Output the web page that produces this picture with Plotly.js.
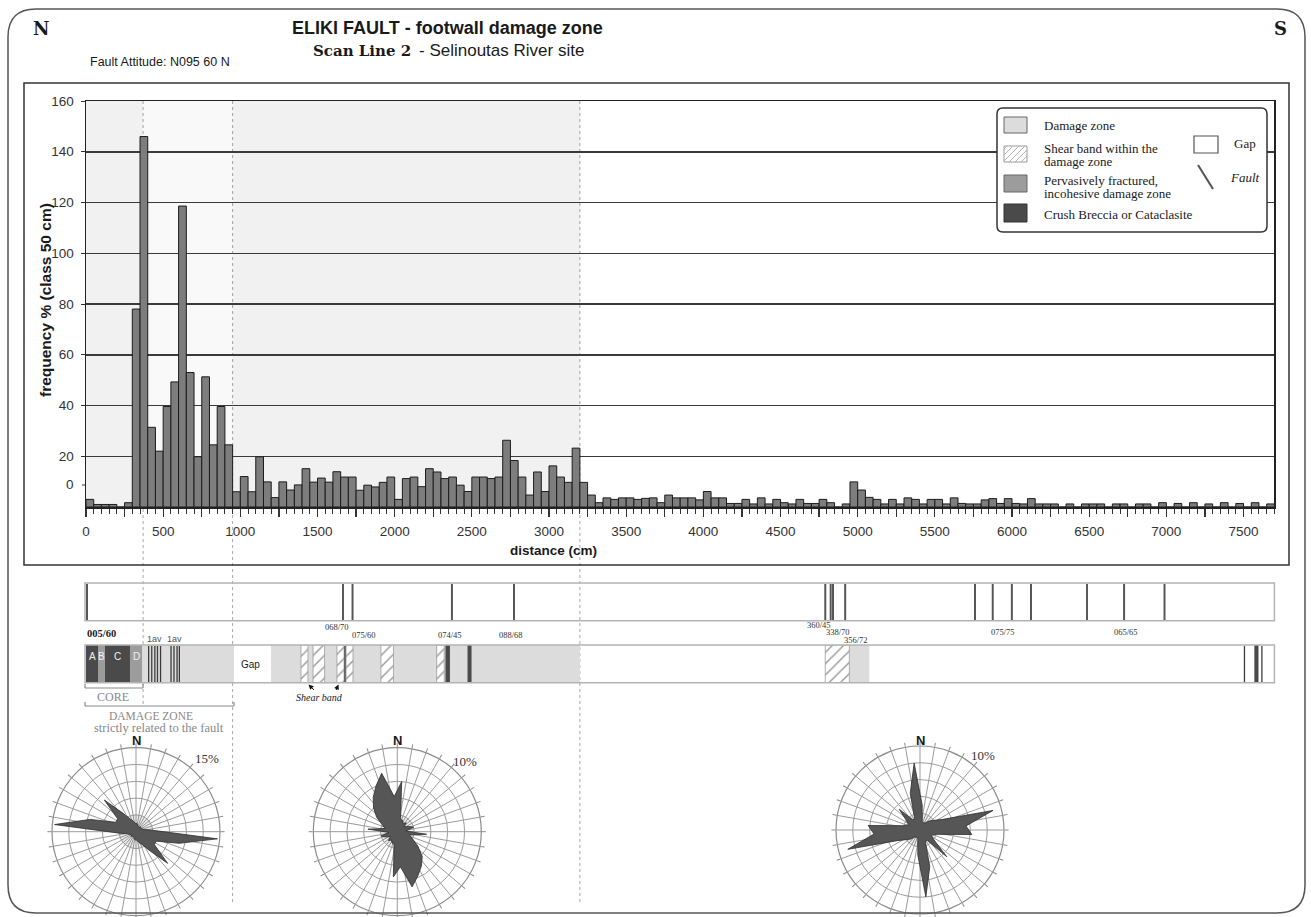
<!DOCTYPE html>
<html><head><meta charset="utf-8">
<script src="https://cdn.plot.ly/plotly-3.0.1.min.js"></script>
<style>body{margin:0;background:#fff}#chart{width:1311px;height:917px}</style>
</head><body><div id="chart"></div>
<script>
// ---------------- DATA ----------------
// histogram: frequency % per 50 cm class, classes starting at 0 cm
const freq = [3.0,1.0,1.0,1.0,0,1.7,78,146,31.4,22,39.6,49.3,118.6,53,19.8,51.3,24.5,39.6,24.5,6,
12,6,19.8,9.9,3.7,9.9,6.7,8.7,15.1,9.8,11.4,9.8,13.9,11.8,11.8,6.6,8.6,7.9,9.7,11.8,
3.0,11.2,11.8,8.0,15.1,13.8,11.2,11.8,8.6,6.1,11.8,11.8,11.2,11.8,26.3,18.3,11.8,4.7,13.8,6.1,
16.2,11.8,9.7,23.2,9.7,4.7,1.7,3.6,3.0,3.6,3.6,3.0,3.4,3.6,1.7,4.7,3.6,3.6,3.6,2.8,
6.1,3.6,3.6,1.4,1.4,3.0,1.2,3.6,1.2,3.0,1.7,1.2,3.0,1.4,1.4,3.0,1.7,0,1.2,9.9,
6.7,3.8,3.0,1.2,3.0,1.2,3.6,3.0,1.2,3.0,3.0,1.2,3.6,1.4,1.2,1.2,2.8,3.3,1.4,3.3,
1.4,1.2,3.3,1.2,1.2,1.2,0,1.2,0,1.2,1.2,1.2,0,1.2,1.2,0,1.2,1.2,0,1.7,
0,1.4,0,1.7,0,1.2,0,1.7,0,1.4,0,1.7,0,1.2];
const classWidth = 50;
const xTickVals = [0,250,500,750,1000,1250,1500,1750,2000,2250,2500,2750,3000,3250,3500,3750,4000,4250,4500,4750,5000,5250,5500,5750,6000,6250,6500,6750,7000,7250,7500];
const xTickText = ['0','','500','','1000','','1500','','2000','','2500','','3000','','3500','','4000','','4500','','5000','','5500','','6000','','6500','','7000','','7500'];
const yTickVals = [20,40,60,80,100,120,140,160];
const yTickText = ['20','40','60','80','100','120','140','160'];
const zoneBounds = [370, 950, 3200];           // cm

// scan-line strips (cm)
const faultLines = [0,1665,1727,2371,2773,4790,4825,4840,4919,5760,5875,5999,6123,6486,6726,6988];
const damageZone = [[363,959],[1199,3200],[4946,5075]];
const fracturedZone = [[79,123],[285,363]];
const crushBreccia = [[0,79],[123,285],[2329,2358],[2472,2498],[7570,7597]];
const shearBands = [[1393,1438],[1471,1546],[1626,1672],[1685,1730],[1911,1992],[2272,2321],[4790,4946]];
const thinFaults = [406,426,446,463,483,551,570,590,605,1678,7506,7619];
const coreUnits = [[0,79],[79,123],[123,285],[285,363]];
const coreNames = ['A','B','C','D'];
const orientLabels = ['068/70','075/60','074/45','088/68','360/45','338/70','356/72','075/75','065/65'];

// rose diagrams: % per 10 degree class (class centres)
const roseTheta = [5,15,25,35,45,55,65,75,85,95,105,115,125,135,145,155,165,175,185,195,205,215,225,235,245,255,265,275,285,295,305,315,325,335,345,355];
const rose1 = [1.5,1.2,1.0,1.0,1.2,1.0,1.2,1.5,3.0,14.6,8.0,4.0,4.0,8.0,4.0,2.5,2.0,1.5,1.5,1.2,1.0,1.0,1.2,1.0,1.2,1.5,3.0,14.6,8.5,4.0,4.0,8.0,4.0,2.5,2.0,1.5];
const rose2 = [6.0,1.5,1.5,1.2,1.5,1.0,1.5,2.0,1.0,3.5,1.5,2.0,3.0,4.2,5.0,5.8,6.8,4.2,5.4,1.5,1.5,1.2,1.5,1.0,1.5,2.0,1.0,3.5,1.5,2.0,3.0,4.0,5.0,6.0,7.2,4.2];
const rose3 = [3.0,1.0,1.0,1.0,1.5,2.0,3.0,9.0,5.5,6.2,2.0,1.5,2.0,4.5,1.5,1.5,4.5,8.0,3.0,1.0,1.0,1.0,1.5,2.0,3.0,8.9,5.5,6.2,2.0,1.5,2.0,3.5,1.5,1.5,4.5,8.0];
const roseMax = [15, 10, 10];
const roseScaleLabels = ['15%','10%','10%'];

// ---------------- HELPERS ----------------
const W = 1311, H = 917;
const PX = x => x / W, PY = y => 1 - y / H;
const SANS = 'Liberation Sans, Arial, sans-serif';
const SERIF = 'Liberation Serif, Times New Roman, serif';
const SLAB = 'DejaVu Serif, serif';
const annotations = [];
const shapes = [];
function txt(text, x, y, size, opt) {
  opt = opt || {};
  annotations.push({text: text, xref: 'paper', yref: 'paper', x: PX(x), y: PY(y),
    xanchor: opt.xa || 'center', yanchor: 'middle', showarrow: false, textangle: opt.angle || 0,
    font: {family: opt.family || SANS, size: size, color: opt.color || '#1a1a1a'}});
}
function pline(x0, y0, x1, y1, color, width, dash) {
  shapes.push({type: 'line', xref: 'paper', yref: 'paper', x0: PX(x0), y0: PY(y0), x1: PX(x1), y1: PY(y1),
    line: {color: color, width: width, dash: dash || 'solid'}});
}
function prect(x0, y0, x1, y1, fill, color, width) {
  shapes.push({type: 'rect', xref: 'paper', yref: 'paper', x0: PX(x0), y0: PY(y1), x1: PX(x1), y1: PY(y0),
    fillcolor: fill || 'rgba(0,0,0,0)', line: {color: color || 'rgba(0,0,0,0)', width: width || 0}});
}
function rrect(x0, y0, x1, y1, r, fill, color, width) {
  const P = (x, y) => PX(x).toFixed(5) + ',' + PY(y).toFixed(5);
  const path = 'M' + P(x0 + r, y0) + ' L' + P(x1 - r, y0) + ' Q' + P(x1, y0) + ' ' + P(x1, y0 + r) +
    ' L' + P(x1, y1 - r) + ' Q' + P(x1, y1) + ' ' + P(x1 - r, y1) + ' L' + P(x0 + r, y1) +
    ' Q' + P(x0, y1) + ' ' + P(x0, y1 - r) + ' L' + P(x0, y0 + r) + ' Q' + P(x0, y0) + ' ' + P(x0 + r, y0) + ' Z';
  shapes.push({type: 'path', xref: 'paper', yref: 'paper', path: path, fillcolor: fill || 'rgba(0,0,0,0)',
    line: {color: color, width: width}});
}
function hatch(x0, y0, x1, y1, step, color) {
  for (let c = x0 + y0 + step / 2; c < x1 + y1; c += step) {
    const xs = Math.max(x0, c - y1), xe = Math.min(x1, c - y0);
    if (xe > xs) pline(xs, c - xs, xe, c - xe, color, 1);
  }
}

// ---------------- TRACES ----------------
const traces = [];
traces.push({type: 'bar', x0: classWidth / 2, dx: classWidth, y: freq, width: classWidth,
  marker: {color: '#7d7d7d', line: {color: '#1c1c1c', width: 1}}, xaxis: 'x', yaxis: 'y', hoverinfo: 'skip'});

function segBars(segs, marker) {
  return {type: 'bar', x: segs.map(s => (s[0] + s[1]) / 2), y: segs.map(() => 1), width: segs.map(s => s[1] - s[0]),
    base: 0, marker: marker, xaxis: 'x2', yaxis: 'y2', hoverinfo: 'skip'};
}
traces.push(segBars(damageZone, {color: '#dcdcdc', line: {width: 0}}));
traces.push(segBars(fracturedZone, {color: '#9c9c9c', line: {width: 0}}));
traces.push(segBars(crushBreccia, {color: '#4a4a4a', line: {width: 0}}));
traces.push(segBars(shearBands, {color: '#ffffff', line: {color: '#9a9a9a', width: 0.8},
  pattern: {shape: '/', fgcolor: '#9a9a9a', bgcolor: '#ffffff', size: 8, solidity: 0.18}}));

const roses = [rose1, rose2, rose3];
roses.forEach((r, k) => {
  const sp = k === 0 ? 'polar' : 'polar' + (k + 1);
  traces.push({type: 'barpolar', r: [roseMax[k] / 5], theta: [180], width: [360], subplot: sp,
    marker: {color: 'rgba(0,0,0,0.07)', line: {width: 0}}, hoverinfo: 'skip'});
  traces.push({type: 'scatterpolar', r: r.concat([r[0]]), theta: roseTheta.concat([roseTheta[0]]), subplot: sp,
    mode: 'lines', fill: 'toself', fillcolor: '#565656', line: {color: '#2e2e2e', width: 0.8}, hoverinfo: 'skip'});
});

// ---------------- DECORATION ----------------
// outer rounded frame and histogram frame
rrect(8, 9, 1305, 913, 28, null, '#555', 1.5);
prect(24, 83, 1289, 565, null, '#333', 1.5);

// zone shading inside the plot (translucent so the dotted boundaries show through)
shapes.push({type: 'rect', xref: 'x', yref: 'y', layer: 'below', x0: 0, x1: zoneBounds[0], y0: 0, y1: 160, fillcolor: 'rgba(0,0,0,0.055)', line: {width: 0}});
shapes.push({type: 'rect', xref: 'x', yref: 'y', layer: 'below', x0: zoneBounds[0], x1: zoneBounds[1], y0: 0, y1: 160, fillcolor: 'rgba(0,0,0,0.025)', line: {width: 0}});
shapes.push({type: 'rect', xref: 'x', yref: 'y', layer: 'below', x0: zoneBounds[1], x1: zoneBounds[2], y0: 0, y1: 160, fillcolor: 'rgba(0,0,0,0.055)', line: {width: 0}});

// dotted zone boundaries (behind the bars)
const zoneBottoms = [706, 905, 905];
zoneBounds.forEach((z, k) => shapes.push({type: 'line', xref: 'x', yref: 'paper', layer: 'below', x0: z, x1: z, y0: PY(101), y1: PY(zoneBottoms[k]),
  line: {color: '#a8a8a8', width: 1, dash: 'dot'}}));

// "0" tick of the y axis
pline(82, 485, 86, 485, '#333', 1);
txt('0', 76, 485, 13.5, {xa: 'right', color: '#333'});

// axis titles
txt('<b>frequency % (class 50 cm)</b>', 45, 300, 15.5, {angle: -90});
txt('<b>distance (cm)</b>', 553, 550, 13.5);

// titles
txt('<b>N</b>', 41, 28, 18, {family: SLAB});
txt('<b>S</b>', 1280, 28, 18, {family: SLAB});
txt('<b>ELIKI FAULT - footwall damage zone</b>', 447, 28, 18);
txt('<b>Scan Line 2</b>', 413, 51, 15, {xa: 'right', family: SLAB});
txt('- Selinoutas River site', 417, 51, 17, {xa: 'left'});
txt('Fault Attitude: N095 60 N', 88, 62, 12.5, {xa: 'left'});

// legend
rrect(997, 108, 1267, 232, 6, '#ffffff', '#333', 1.5);
prect(1004, 117, 1027, 133, '#dcdcdc', '#666', 1);
prect(1004, 146, 1027, 162, '#ffffff', '#999', 1);
hatch(1004, 146, 1027, 162, 6, '#b0b0b0');
prect(1004, 175, 1027, 192, '#9c9c9c', '#666', 1);
prect(1004, 204, 1027, 222, '#4a4a4a', '#333', 1);
prect(1194, 136, 1218, 153, '#ffffff', '#555', 1.2);
pline(1198, 165, 1213, 189, '#555', 2);
txt('Damage zone', 1042, 125, 13, {xa: 'left', family: SERIF});
txt('Shear band within the', 1042, 148, 13, {xa: 'left', family: SERIF});
txt('damage zone', 1042, 162, 13, {xa: 'left', family: SERIF});
txt('Pervasively fractured,', 1042, 180, 13, {xa: 'left', family: SERIF});
txt('incohesive damage zone', 1042, 194, 13, {xa: 'left', family: SERIF});
txt('Crush Breccia or Cataclasite', 1042, 214, 13, {xa: 'left', family: SERIF});
txt('Gap', 1232, 144, 13, {xa: 'left', family: SERIF});
txt('<i>Fault</i>', 1228, 178, 13, {xa: 'left', family: SERIF});

// strip 1: faults along the scan line
faultLines.forEach((f, k) => shapes.push({type: 'line', xref: 'x', yref: 'paper', x0: f, x1: f, y0: PY(584), y1: PY(620),
  line: {color: '#575757', width: k === 0 ? 4 : 2}}));
prect(85, 583, 1274.4, 620.7, null, '#b4b4b4', 1.5);

// strip 2: thin faults, border
thinFaults.forEach(f => shapes.push({type: 'line', xref: 'x2', yref: 'paper', x0: f, x1: f, y0: PY(646), y1: PY(682),
  line: {color: '#3c3c3c', width: 1.3}}));
prect(85, 645, 1274.4, 682.7, null, '#b4b4b4', 1.5);
coreUnits.forEach((u, k) => annotations.push({text: coreNames[k], xref: 'x2', yref: 'paper', x: (u[0] + u[1]) / 2, y: PY(664),
  showarrow: false, font: {family: SANS, size: 10, color: '#f2f2f2'}}));
txt('Gap', 250, 664, 10);

// orientation labels
txt('<b>005/60</b>', 85, 633, 10.5, {xa: 'left', family: SERIF});
const orientPos = [[337, 627], [364, 635], [450, 635], [511, 635], [819, 625], [838, 632], [856, 640], [1003, 632], [1126, 632]];
orientLabels.forEach((t, k) => txt(t, orientPos[k][0], orientPos[k][1], 8.5, {family: SERIF, color: '#333'}));
txt('1av', 154, 639, 9, {color: '#555'});
txt('1av', 175, 639, 9, {color: '#555'});

// shear band note
txt('<i>Shear band</i>', 319, 697, 10, {family: SERIF});
annotations.push({text: '', xref: 'paper', yref: 'paper', x: PX(308.5), y: PY(684.5), ax: 7, ay: 7, showarrow: true,
  arrowhead: 2, arrowsize: 1, arrowwidth: 1, arrowcolor: '#111'});
annotations.push({text: '', xref: 'paper', yref: 'paper', x: PX(338.5), y: PY(684.5), ax: -3, ay: 7, showarrow: true,
  arrowhead: 2, arrowsize: 1, arrowwidth: 1, arrowcolor: '#111'});

// core / damage zone brackets
pline(85, 688, 143, 688, '#8a8a8a', 1.2);
pline(85, 684, 85, 688, '#8a8a8a', 1.2);
pline(143, 684, 143, 688, '#8a8a8a', 1.2);
txt('CORE', 113, 697, 12, {family: SERIF, color: '#888'});
pline(85, 706, 234, 706, '#8a8a8a', 1.2);
pline(85, 702, 85, 706, '#8a8a8a', 1.2);
pline(234, 702, 234, 706, '#8a8a8a', 1.2);
txt('DAMAGE ZONE', 151, 715.5, 11.5, {family: SERIF, color: '#888'});
txt('strictly related to the fault', 159, 727.5, 12.5, {family: SERIF, color: '#888'});

// rose labels
const roseCentres = [[136, 831.7], [397.3, 831.7], [920, 830]];
const roseRad = 84;
const rosePct = [[207, 758], [465, 761], [983, 755]];
roseCentres.forEach((c, k) => {
  txt('<b>N</b>', c[0], 740, 13);
  txt(roseScaleLabels[k], rosePct[k][0], rosePct[k][1], 13, {family: SERIF, color: '#333'});
});

function polarCfg(k) {
  const c = roseCentres[k];
  const m = roseMax[k];
  return {
    domain: {x: [PX(c[0] - roseRad), PX(c[0] + roseRad)], y: [PY(c[1] + roseRad), PY(c[1] - roseRad)]},
    bgcolor: 'rgba(0,0,0,0)',
    radialaxis: {range: [0, m], tickmode: 'linear', tick0: 0, dtick: m / 5, showticklabels: false, ticks: '',
      showline: false, gridcolor: '#9c9c9c', gridwidth: 1},
    angularaxis: {rotation: 90, direction: 'clockwise', tickmode: 'linear', tick0: 0, dtick: 10, showticklabels: false,
      ticks: 'outside', ticklen: 4, tickcolor: '#8c8c8c', gridcolor: '#9c9c9c', gridwidth: 1, linecolor: '#8c8c8c', linewidth: 1.2}
  };
}

// ---------------- LAYOUT ----------------
const layout = {
  width: W, height: H, margin: {l: 0, r: 0, t: 0, b: 0},
  paper_bgcolor: '#ffffff', plot_bgcolor: 'rgba(0,0,0,0)', showlegend: false, barmode: 'overlay',
  xaxis: {domain: [PX(86), PX(1274.4)], range: [0, 7700], anchor: 'y', tickmode: 'array', tickvals: xTickVals, ticktext: xTickText,
    ticks: 'outside', ticklen: 8, tickwidth: 1.2, tickcolor: '#333', showline: true, linecolor: '#222', linewidth: 1.5, mirror: true,
    showgrid: false, zeroline: false, tickfont: {family: SANS, size: 13.5, color: '#333'}, ticklabelstandoff: 3,
    minor: {tickmode: 'linear', tick0: 0, dtick: 50, ticks: 'outside', ticklen: 5, tickwidth: 1, tickcolor: '#333', showgrid: false}},
  yaxis: {domain: [PY(507), PY(101)], range: [0, 160], anchor: 'x', tickmode: 'array', tickvals: yTickVals, ticktext: yTickText,
    ticks: 'outside', ticklen: 4, tickcolor: '#333', showline: true, linecolor: '#222', linewidth: 1.5, mirror: true,
    showgrid: true, gridcolor: '#3a3a3a', gridwidth: 1.5, zeroline: false, tickfont: {family: SANS, size: 13.5, color: '#333'}, ticklabelstandoff: 4},
  xaxis2: {domain: [PX(86), PX(1274.4)], range: [0, 7700], anchor: 'y2', visible: false},
  yaxis2: {domain: [PY(682.7), PY(645)], range: [0, 1], anchor: 'x2', visible: false},
  polar: polarCfg(0), polar2: polarCfg(1), polar3: polarCfg(2),
  shapes: shapes, annotations: annotations
};

Plotly.newPlot('chart', traces, layout, {displayModeBar: false, staticPlot: true});
</script></body></html>
